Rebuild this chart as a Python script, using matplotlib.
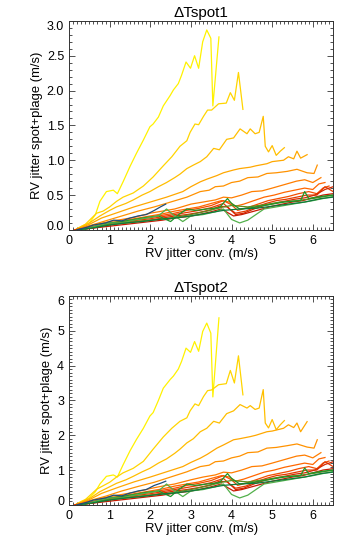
import matplotlib
matplotlib.use('Agg')
import matplotlib.pyplot as plt
import numpy as np
from matplotlib.ticker import MultipleLocator

plt.rcParams['font.family'] = ['Liberation Sans', 'DejaVu Sans']

# x values (RV jitter conv.) for each curve, shared by both panels
x1 = [0.15, 0.3, 0.5, 0.65, 0.76, 0.92, 1.09, 1.19, 1.33, 1.5, 1.66, 1.83, 1.99, 2.07, 2.2, 2.32, 2.49, 2.57,
      2.69, 2.77, 2.88, 2.99, 3.09, 3.19, 3.29, 3.39, 3.49, 3.54, 3.69]
x2 = [0.15, 0.4, 0.68, 0.84, 1.0, 1.17, 1.33, 1.58, 1.83, 2.07, 2.32, 2.53, 2.73, 2.9, 2.98, 3.1, 3.19, 3.31,
      3.41, 3.51, 3.68, 3.87, 3.97, 4.07, 4.17, 4.28]
x3 = [0.15, 0.5, 0.76, 1.0, 1.17, 1.4, 1.58, 1.8, 1.99, 2.2, 2.4, 2.6, 2.73, 2.9, 3.06, 3.23, 3.39, 3.56, 3.7,
      3.88, 4.05, 4.21, 4.38, 4.46, 4.58, 4.68, 4.78, 4.83, 4.91, 5.0, 5.1, 5.2, 5.3]
x4 = [0.15, 0.5, 0.8, 1.2, 1.6, 2.0, 2.4, 2.8, 3.0, 3.23, 3.4, 3.64, 3.8, 4.05, 4.2, 4.46, 4.6, 4.87, 5.0, 5.28,
      5.4, 5.53, 5.61, 5.7, 5.86]
x5 = [0.15, 0.5, 0.9, 1.3, 1.7, 2.1, 2.5, 2.9, 3.23, 3.45, 3.6, 3.8, 4.0, 4.2, 4.4, 4.65, 4.87, 5.1, 5.37, 5.61,
      5.86, 6.03, 6.11]
x6 = [0.15, 0.6, 1.0, 1.3, 1.6, 2.0, 2.3, 2.6, 3.0, 3.3, 3.6, 3.8, 4.0, 4.25, 4.5, 4.75, 5.0, 5.3, 5.6, 5.8, 6.0,
      6.2]
x7 = [0.15, 0.5, 0.8, 1.1, 1.4, 1.7, 2.0, 2.3, 2.6, 2.9, 3.2, 3.5, 3.75, 3.95, 4.1, 4.3, 4.55, 4.8, 5.05, 5.3,
      5.55, 5.8, 6.0, 6.15, 6.3]
x8 = [0.15, 0.5, 0.8, 1.1, 1.4, 1.7, 2.0, 2.3, 2.6, 2.9, 3.2, 3.5, 3.8, 4.0, 4.15, 4.4, 4.65, 4.9, 5.15, 5.4,
      5.65, 5.9, 6.1, 6.25, 6.4]
x9 = [0.15, 0.5, 0.8, 1.1, 1.4, 1.7, 2.0, 2.3, 2.6, 2.9, 3.2, 3.5, 3.8, 3.95, 4.1, 4.35, 4.6, 4.85, 5.1, 5.35,
      5.6, 5.85, 6.1, 6.3, 6.5]
x10 = [0.15, 0.5, 0.8, 1.1, 1.4, 1.7, 2.0, 2.3, 2.6, 2.9, 3.2, 3.5, 3.7, 3.9, 4.1, 4.3, 4.55, 4.8, 5.05, 5.3,
       5.55, 5.8, 6.05, 6.3, 6.5]
x11 = [0.2, 0.5, 0.8, 1.1, 1.4, 1.7, 2.0, 2.3, 2.6, 2.9, 3.2, 3.5, 3.75, 3.9, 4.05, 4.25, 4.5, 4.75, 5.0, 5.25,
       5.5, 5.75, 6.0, 6.25, 6.5]
x12 = [0.2, 0.6, 1.0, 1.4, 1.8, 2.2, 2.6, 3.0, 3.4, 3.8, 4.0, 4.4, 4.8, 5.2, 5.6, 6.0, 6.3, 6.5]
x13 = [0.3, 0.7, 1.0, 1.3, 1.6, 1.9, 2.2, 2.5, 2.7, 2.9, 3.1, 3.4, 3.7, 3.9, 4.0, 4.2, 4.5, 4.9, 5.3, 5.7, 5.8,
       5.9, 6.2, 6.5]
x14 = [0.3, 0.7, 1.0, 1.3, 1.6, 1.9, 2.2, 2.4, 2.6, 2.8, 3.0, 3.3, 3.6, 3.8, 4.0, 4.2, 4.4, 4.8, 5.2, 5.6, 6.0,
       6.5]
x15 = [0.2, 0.6, 1.0, 1.4, 1.8, 2.2, 2.6, 3.0, 3.4, 3.8, 4.2, 4.6, 5.0, 5.4, 5.8, 6.2, 6.5]
x16 = [0.2, 0.45, 0.6, 0.9, 1.1, 1.3, 1.5, 1.7, 1.9, 2.1, 2.25, 2.38]

# top panel: dTspot1
top1 = [0.0, 0.05, 0.1, 0.22, 0.41, 0.55, 0.57, 0.52, 0.69, 0.91, 1.1, 1.29, 1.48, 1.52, 1.62, 1.78, 1.93, 2.01,
        2.1, 2.22, 2.41, 2.32, 2.5, 2.32, 2.7, 2.87, 2.75, 1.78, 2.77]
top2 = [0.0, 0.08, 0.24, 0.27, 0.33, 0.41, 0.47, 0.53, 0.63, 0.76, 0.92, 1.05, 1.2, 1.28, 1.4, 1.52, 1.51, 1.63,
        1.72, 1.72, 1.81, 1.82, 1.97, 1.86, 2.26, 1.73]
top3 = [0.0, 0.1, 0.2, 0.28, 0.33, 0.38, 0.43, 0.5, 0.55, 0.62, 0.68, 0.75, 0.8, 0.88, 0.93, 0.98, 1.05, 1.17,
        1.15, 1.3, 1.32, 1.45, 1.38, 1.45, 1.38, 1.4, 1.63, 1.2, 1.12, 1.21, 1.07, 1.13, 1.18]
top4 = [0.0, 0.08, 0.17, 0.25, 0.33, 0.4, 0.47, 0.55, 0.62, 0.69, 0.73, 0.78, 0.82, 0.86, 0.88, 0.9, 0.92, 0.95,
        0.98, 1.0, 1.05, 1.02, 1.13, 1.03, 1.08]
top5 = [0.0, 0.06, 0.13, 0.2, 0.27, 0.33, 0.4, 0.47, 0.55, 0.57, 0.62, 0.63, 0.68, 0.7, 0.75, 0.76, 0.81, 0.82,
        0.84, 0.87, 0.82, 0.81, 0.93]
top6 = [0.0, 0.07, 0.12, 0.15, 0.18, 0.24, 0.27, 0.3, 0.37, 0.4, 0.43, 0.47, 0.46, 0.5, 0.55, 0.56, 0.6, 0.65,
        0.7, 0.72, 0.68, 0.75]
top7 = [0.0, 0.04, 0.08, 0.11, 0.14, 0.17, 0.2, 0.23, 0.27, 0.3, 0.33, 0.38, 0.42, 0.4, 0.34, 0.37, 0.42, 0.47,
        0.5, 0.54, 0.57, 0.6, 0.58, 0.66, 0.68]
top8 = [0.0, 0.03, 0.07, 0.1, 0.12, 0.15, 0.18, 0.21, 0.24, 0.28, 0.31, 0.35, 0.42, 0.36, 0.28, 0.32, 0.37, 0.42,
        0.45, 0.48, 0.52, 0.55, 0.52, 0.6, 0.63]
top9 = [0.0, 0.03, 0.06, 0.09, 0.11, 0.14, 0.16, 0.19, 0.22, 0.25, 0.28, 0.32, 0.38, 0.3, 0.24, 0.27, 0.33, 0.38,
        0.42, 0.44, 0.47, 0.5, 0.5, 0.62, 0.55]
top10 = [0.0, 0.02, 0.05, 0.08, 0.1, 0.12, 0.14, 0.17, 0.2, 0.22, 0.25, 0.29, 0.34, 0.33, 0.22, 0.24, 0.3, 0.35,
         0.38, 0.41, 0.44, 0.46, 0.5, 0.58, 0.62]
top11 = [0.0, 0.02, 0.04, 0.06, 0.08, 0.1, 0.12, 0.14, 0.17, 0.19, 0.22, 0.26, 0.3, 0.25, 0.2, 0.22, 0.26, 0.3,
         0.34, 0.37, 0.4, 0.42, 0.46, 0.5, 0.52]
top12 = [0.0, 0.04, 0.08, 0.1, 0.13, 0.15, 0.18, 0.22, 0.27, 0.33, 0.35, 0.33, 0.36, 0.4, 0.42, 0.45, 0.48, 0.5]
top13 = [0.0, 0.05, 0.1, 0.12, 0.15, 0.18, 0.2, 0.12, 0.22, 0.3, 0.28, 0.3, 0.32, 0.45, 0.38, 0.3, 0.32, 0.36,
         0.4, 0.42, 0.55, 0.45, 0.48, 0.5]
top14 = [0.0, 0.06, 0.1, 0.1, 0.14, 0.17, 0.2, 0.3, 0.2, 0.12, 0.2, 0.22, 0.26, 0.3, 0.15, 0.1, 0.14, 0.3, 0.34,
         0.38, 0.42, 0.48]
top15 = [0.0, 0.03, 0.07, 0.1, 0.12, 0.15, 0.17, 0.2, 0.24, 0.28, 0.3, 0.31, 0.34, 0.37, 0.4, 0.45, 0.47]
top16 = [0.0, 0.04, 0.07, 0.1, 0.14, 0.13, 0.17, 0.2, 0.22, 0.28, 0.33, 0.37]

# bottom panel: dTspot2
bot1 = [0.0, 0.1, 0.2, 0.38, 0.6, 0.82, 0.86, 0.8, 1.15, 1.55, 1.88, 2.2, 2.55, 2.65, 3.0, 3.35, 3.6, 3.7, 3.9,
        4.12, 4.5, 4.38, 4.69, 4.41, 4.98, 5.22, 4.93, 3.1, 5.37]
bot2 = [0.0, 0.15, 0.45, 0.55, 0.65, 0.8, 0.92, 1.05, 1.25, 1.6, 1.95, 2.2, 2.4, 2.5, 2.7, 2.9, 2.85, 3.11, 3.28,
        3.3, 3.45, 3.48, 3.86, 3.5, 4.28, 3.16]
bot3 = [0.0, 0.18, 0.38, 0.52, 0.62, 0.72, 0.82, 0.95, 1.05, 1.2, 1.32, 1.48, 1.6, 1.78, 1.9, 2.1, 2.2, 2.4,
        2.35, 2.62, 2.7, 2.88, 2.78, 2.85, 2.74, 2.78, 3.31, 2.35, 2.21, 2.45, 2.16, 2.3, 2.42]
bot4 = [0.0, 0.15, 0.33, 0.5, 0.66, 0.8, 0.95, 1.1, 1.22, 1.34, 1.45, 1.63, 1.72, 1.87, 1.9, 1.96, 2.0, 2.1,
        2.12, 2.2, 2.3, 2.22, 2.35, 2.1, 2.39]
bot5 = [0.0, 0.12, 0.25, 0.4, 0.53, 0.65, 0.8, 0.95, 1.1, 1.14, 1.24, 1.26, 1.35, 1.4, 1.5, 1.52, 1.63, 1.65,
        1.7, 1.75, 1.66, 1.63, 1.87]
bot6 = [0.0, 0.14, 0.24, 0.3, 0.36, 0.47, 0.54, 0.6, 0.72, 0.8, 0.86, 0.94, 0.92, 1.0, 1.1, 1.12, 1.2, 1.3, 1.4,
        1.43, 1.35, 1.5]
bot7 = [0.0, 0.08, 0.16, 0.22, 0.28, 0.34, 0.4, 0.46, 0.54, 0.6, 0.66, 0.76, 0.84, 0.8, 0.68, 0.74, 0.84, 0.94,
        1.0, 1.08, 1.14, 1.2, 1.16, 1.32, 1.36]
bot8 = [0.0, 0.06, 0.14, 0.2, 0.24, 0.3, 0.36, 0.42, 0.48, 0.56, 0.62, 0.7, 0.84, 0.72, 0.56, 0.64, 0.74, 0.84,
        0.9, 0.96, 1.04, 1.1, 1.04, 1.2, 1.26]
bot9 = [0.0, 0.06, 0.12, 0.18, 0.22, 0.28, 0.32, 0.38, 0.44, 0.5, 0.56, 0.64, 0.76, 0.6, 0.48, 0.54, 0.66, 0.76,
        0.84, 0.88, 0.94, 1.0, 1.0, 1.24, 1.1]
bot10 = [0.0, 0.04, 0.1, 0.16, 0.2, 0.24, 0.28, 0.34, 0.4, 0.44, 0.5, 0.58, 0.68, 0.66, 0.44, 0.48, 0.6, 0.7,
         0.76, 0.82, 0.88, 0.92, 1.0, 1.16, 1.24]
bot11 = [0.0, 0.04, 0.08, 0.12, 0.16, 0.2, 0.24, 0.28, 0.34, 0.38, 0.44, 0.52, 0.6, 0.5, 0.4, 0.44, 0.52, 0.6,
         0.68, 0.74, 0.8, 0.84, 0.92, 1.0, 1.04]
bot12 = [0.0, 0.08, 0.16, 0.2, 0.26, 0.3, 0.36, 0.44, 0.54, 0.66, 0.7, 0.66, 0.72, 0.8, 0.84, 0.9, 0.96, 1.0]
bot13 = [0.0, 0.1, 0.2, 0.24, 0.3, 0.36, 0.4, 0.24, 0.44, 0.6, 0.56, 0.6, 0.64, 0.9, 0.76, 0.6, 0.64, 0.72, 0.8,
         0.84, 1.06, 0.9, 0.96, 1.0]
bot14 = [0.0, 0.12, 0.2, 0.2, 0.28, 0.34, 0.4, 0.6, 0.4, 0.24, 0.4, 0.44, 0.52, 0.6, 0.3, 0.2, 0.28, 0.6, 0.68,
         0.76, 0.84, 0.96]
bot15 = [0.0, 0.06, 0.14, 0.2, 0.24, 0.3, 0.34, 0.4, 0.48, 0.56, 0.6, 0.62, 0.68, 0.74, 0.8, 0.9, 0.94]
bot16 = [0.0, 0.08, 0.14, 0.2, 0.28, 0.26, 0.34, 0.4, 0.44, 0.56, 0.62, 0.68]

colors = ['#fff200', '#ffd500', '#ffbf00', '#ffa800', '#ff9200', '#ff7d00', '#ff6600', '#f24e00', '#e43a00',
          '#d62800', '#c81800', '#5e8c1e', '#1e9628', '#52b04a', '#0f7a3c', '#1f4d7a']

xs = [x1, x2, x3, x4, x5, x6, x7, x8, x9, x10, x11, x12, x13, x14, x15, x16]
tops = [top1, top2, top3, top4, top5, top6, top7, top8, top9, top10, top11, top12, top13, top14, top15, top16]
bots = [bot1, bot2, bot3, bot4, bot5, bot6, bot7, bot8, bot9, bot10, bot11, bot12, bot13, bot14, bot15, bot16]

top_yticks = [0.0, 0.5, 1.0, 1.5, 2.0, 2.5, 3.0]
bot_yticks = [0, 1, 2, 3, 4, 5, 6]


def style_axes(ax, yticks, fmt):
    ax.set_xlim(0, 6.5)
    ax.set_ylim(yticks[0], yticks[-1])
    ax.xaxis.set_major_locator(MultipleLocator(1))
    ax.xaxis.set_minor_locator(MultipleLocator(0.1))
    ax.set_yticks(yticks, [fmt.format(v) for v in yticks])
    ax.yaxis.set_minor_locator(MultipleLocator(0.1))
    ax.tick_params(which='both', direction='in', top=True, right=True, colors='#333333', labelcolor='black',
                   labelsize=9, width=0.6)
    ax.tick_params(which='major', length=4)
    ax.tick_params(which='minor', length=2)
    for s in ax.spines.values():
        s.set_linewidth(0.7)
        s.set_color('#333333')
    # IDL-style: end labels pulled inside the axis range
    ticks = ax.yaxis.get_major_ticks()
    ticks[0].label1.set_va('baseline')
    ticks[-1].label1.set_va('top')
    ax.set_xlabel('RV jitter conv. (m/s)', fontsize=9.4, labelpad=1)
    ax.set_ylabel('RV jitter spot+plage (m/s)', fontsize=9.4, labelpad=3)


fig = plt.figure(figsize=(3.54, 5.5), dpi=100)
ax1 = fig.add_axes([0.195, 0.582, 0.746, 0.38])
ax2 = fig.add_axes([0.195, 0.082, 0.746, 0.38])

for x, yt, yb, c in zip(xs, tops, bots, colors):
    ax1.plot(x, yt, color=c, lw=0.9)
    ax2.plot(x, yb, color=c, lw=0.9)

style_axes(ax1, top_yticks, '{:.1f}')
style_axes(ax2, bot_yticks, '{:d}')
ax1.set_title('\u0394Tspot1', fontsize=11, pad=3)
ax2.set_title('\u0394Tspot2', fontsize=11, pad=3)

fig.savefig('out.png', dpi=100)
